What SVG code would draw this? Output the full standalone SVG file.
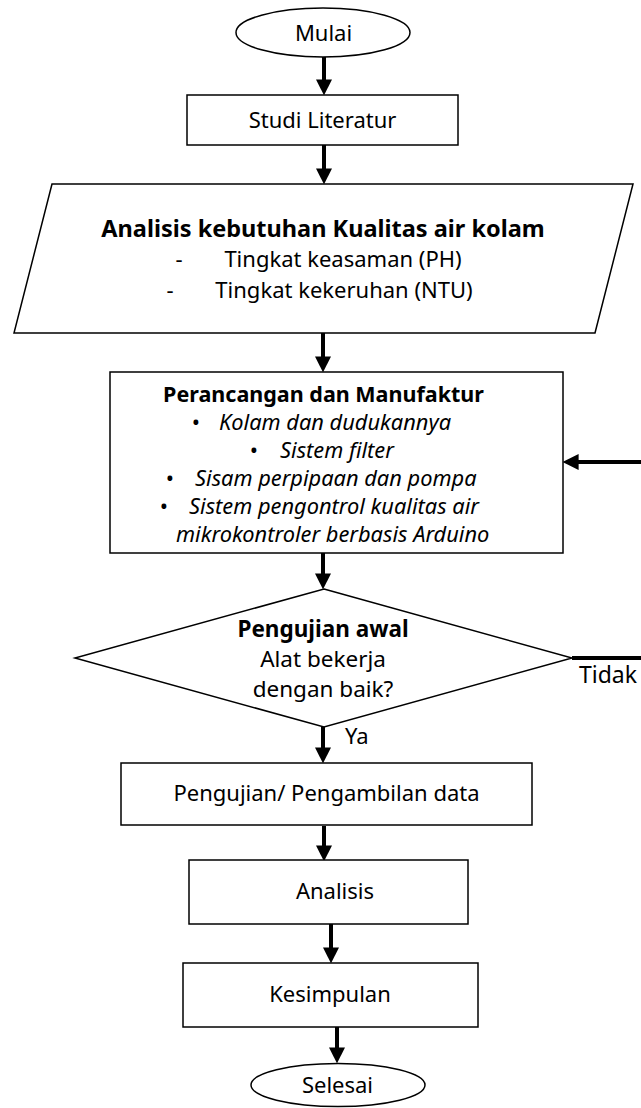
<svg xmlns="http://www.w3.org/2000/svg" width="641" height="1108" viewBox="0 0 641 1108">
<defs>
<marker id="ah" viewBox="0 0 10 10" refX="1" refY="5" markerWidth="4" markerHeight="4" orient="auto" markerUnits="strokeWidth">
<path d="M0,0 L10,5 L0,10 z" fill="#000"/>
</marker>
<style>
.s{fill:#fff;stroke:#000;stroke-width:1.5}
.t{font-family:"Noto Sans","Open Sans",sans-serif;font-size:22px;fill:#000;text-anchor:middle}
.l{text-anchor:start}
.b{font-weight:bold}
.i{font-style:italic;font-size:21.8px}
.c{stroke:#000;stroke-width:4;fill:none}
</style>
</defs>
<g id="connectors">
<line class="c" x1="324" y1="57" x2="324" y2="81" marker-end="url(#ah)"/>
<line class="c" x1="324" y1="145" x2="324" y2="170" marker-end="url(#ah)"/>
<line class="c" x1="323" y1="333" x2="323" y2="358" marker-end="url(#ah)"/>
<line class="c" x1="323" y1="553" x2="323" y2="575" marker-end="url(#ah)"/>
<line class="c" x1="323" y1="727" x2="323" y2="749" marker-end="url(#ah)"/>
<line class="c" x1="324" y1="826" x2="324" y2="847" marker-end="url(#ah)"/>
<line class="c" x1="331" y1="924" x2="331" y2="949" marker-end="url(#ah)"/>
<line class="c" x1="337" y1="1027" x2="337" y2="1049" marker-end="url(#ah)"/>
<line class="c" x1="572" y1="658" x2="641" y2="658"/>
<line class="c" x1="641" y1="462" x2="577" y2="462" marker-end="url(#ah)"/>
</g>
<g id="mulai">
<ellipse class="s" cx="323" cy="32.5" rx="87" ry="24.5"/>
<text class="t" x="323.5" y="41">Mulai</text>
</g>
<g id="studi">
<rect class="s" x="187" y="95" width="271" height="50"/>
<text class="t" x="322.5" y="128">Studi Literatur</text>
</g>
<g id="analisis-kebutuhan">
<polygon class="s" points="52,184 633,184 595,333 14,333"/>
<text class="t b" x="323" y="237" style="font-size:23.5px">Analisis kebutuhan Kualitas air kolam</text>
<text class="t" x="179" y="267">-</text>
<text class="t" x="343" y="267">Tingkat keasaman (PH)</text>
<text class="t" x="170" y="298">-</text>
<text class="t" x="344" y="298">Tingkat kekeruhan (NTU)</text>
</g>
<g id="perancangan">
<rect class="s" x="110" y="372" width="453" height="181"/>
<text class="t b" x="323.5" y="402" style="font-size:21.5px">Perancangan dan Manufaktur</text>
<text class="t" x="196" y="430">•</text>
<text class="t i l" x="219" y="430">Kolam dan dudukannya</text>
<text class="t" x="254" y="458">•</text>
<text class="t i l" x="280" y="458">Sistem filter</text>
<text class="t" x="170" y="486">•</text>
<text class="t i l" x="195" y="486">Sisam perpipaan dan pompa</text>
<text class="t" x="164" y="514">•</text>
<text class="t i l" x="189" y="514">Sistem pengontrol kualitas air</text>
<text class="t i l" x="176" y="542">mikrokontroler berbasis Arduino</text>
</g>
<g id="pengujian-awal">
<polygon class="s" points="324,589 572,658 324,727 75,658"/>
<text class="t b" x="323" y="637" style="font-size:22.5px">Pengujian awal</text>
<text class="t" x="323" y="667" style="font-size:22.5px">Alat bekerja</text>
<text class="t" x="323" y="697" style="font-size:22.5px">dengan baik?</text>
<text class="t l" x="579" y="683" style="font-size:23px">Tidak</text>
<text class="t l" x="345" y="744">Ya</text>
</g>
<g id="pengambilan">
<rect class="s" x="121" y="763" width="411" height="62"/>
<text class="t" x="326.5" y="801">Pengujian/ Pengambilan data</text>
</g>
<g id="analisis">
<rect class="s" x="189" y="860" width="279" height="64"/>
<text class="t" x="335" y="899">Analisis</text>
</g>
<g id="kesimpulan">
<rect class="s" x="183" y="963" width="295" height="64"/>
<text class="t" x="330" y="1002">Kesimpulan</text>
</g>
<g id="selesai">
<ellipse class="s" cx="338" cy="1085" rx="87" ry="21.5"/>
<text class="t" x="337.5" y="1093">Selesai</text>
</g>
</svg>
